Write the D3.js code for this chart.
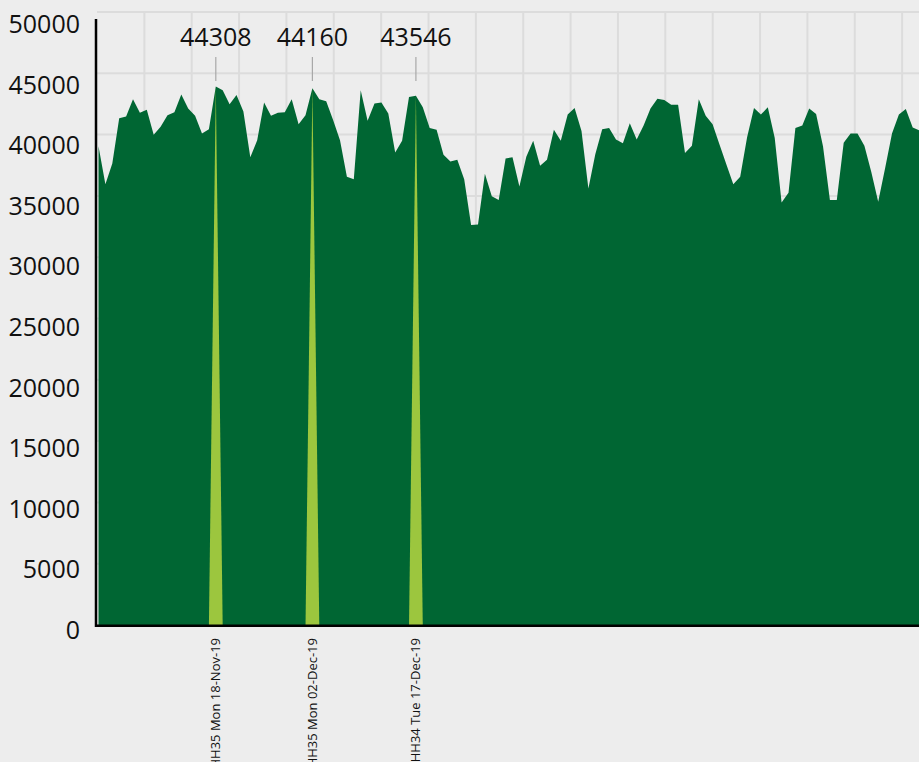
<!DOCTYPE html>
<html>
<head>
<meta charset="utf-8">
<script src="https://cdn.jsdelivr.net/npm/d3@7/dist/d3.min.js"></script>
<style>
	html, body { margin: 0; padding: 0; background: #ededed; overflow: hidden; }
	svg { display: block; font-family: "Open Sans", "Noto Sans", sans-serif; }
</style>
</head>
<body>
<svg id="chart"></svg>
<script>
/*
Daily peak demand, one value per day starting at firstDay.
The three highest peaks are called out with their half-hour period.
*/
var firstDay = "2019-11-01";

var dailyPeak = [
	39400, 36300, 38000, 41700, 41850, 43250, 42150, 42400, 40350, 41000,
	41950, 42200, 43650, 42500, 41900, 40450, 40800, 44308, 44000, 42850,
	43600, 42250, 38500, 39900, 43000, 41900, 42150, 42200, 43250, 41200,
	41950, 44160, 43250, 43100, 41550, 39900, 36900, 36700, 44000, 41500,
	42900, 43000, 42100, 38900, 39850, 43450, 43546, 42600, 40900, 40750,
	38700, 38150, 38300, 36700, 32950, 33000, 37150, 35300, 35000, 38400,
	38500, 36100, 38550, 39850, 37800, 38300, 40750, 39850, 42000, 42550,
	40650, 35950, 38750, 40800, 40900, 39950, 39650, 41300, 39950, 41100,
	42500, 43300, 43200, 42800, 42800, 38850, 39450, 43250, 41900, 41200,
	39550, 37900, 36300, 36900, 40150, 42550, 42000, 42600, 40100, 34800,
	35600, 40900, 41100, 42500, 42050, 39400, 35000, 35000, 39700, 40450,
	40450, 39450, 37300, 34850, 37600, 40450, 42000, 42450, 40950, 40700,
	40400
];

var peakDays = ["2019-11-18", "2019-12-02", "2019-12-17"];
var peakPeriods = ["HH35", "HH35", "HH34"];

var yTicks = [0, 5000, 10000, 15000, 20000, 25000, 30000, 35000, 40000, 45000, 50000];

function Chart(root) {
	var width = 919, height = 762,
		left = 97, right = width, top = 12, bottom = 626,
		dayWidth = 6.9, gridStepX = 47.36;

	var parse = d3.utcParse("%Y-%m-%d"),
		fmt = d3.utcFormat("%a %d-%b-%y"),
		start = parse(firstDay);

	var rows = dailyPeak.map(function (v, i) {
		return { day: d3.utcDay.offset(start, i), value: v };
	});

	var svg = d3.select(root).attr("width", width).attr("height", height);

	var x = d3.scaleUtc()
		.domain([rows[0].day, rows[rows.length - 1].day])
		.range([left + 1.5, left + 1.5 + (rows.length - 1) * dayWidth]);

	// the plotted values, the grid and the tick labels sit on slightly different scales
	var y = d3.scaleLinear().domain([0, 50000]).range([627, 17]);
	var yGrid = d3.scaleLinear().domain([0, 50000]).range([625, top]);
	var yLabel = d3.scaleLinear().domain([0, 50000]).range([630, 24]);

	svg.append("rect").attr("width", width).attr("height", height).attr("fill", "#ededed");

	svg.append("defs").append("clipPath").attr("id", "plot")
		.append("rect").attr("x", left).attr("y", 0)
		.attr("width", right - left).attr("height", bottom + 2);

	var grid = svg.append("g").attr("stroke", "#dcdcdc").attr("stroke-width", 2);
	grid.selectAll(".h").data(yTicks).enter().append("line")
		.attr("x1", left).attr("x2", right)
		.attr("y1", function (d) { return yGrid(d); })
		.attr("y2", function (d) { return yGrid(d); });
	grid.selectAll(".v").data(d3.range(left + gridStepX, right, gridStepX)).enter().append("line")
		.attr("x1", function (d) { return d; }).attr("x2", function (d) { return d; })
		.attr("y1", top).attr("y2", bottom);

	var area = d3.area()
		.x(function (d) { return x(d.day); })
		.y0(y(0))
		.y1(function (d) { return y(d.value); });

	var plot = svg.append("g").attr("clip-path", "url(#plot)");
	plot.append("path").datum(rows).attr("d", area).attr("fill", "#006633");

	var peaks = peakDays.map(function (s, i) {
		var day = parse(s);
		var row = rows.find(function (r) { return +r.day === +day; });
		return { day: day, value: row.value, period: peakPeriods[i] };
	});

	// light spike: zero the day before and after, peak on the day
	plot.selectAll(".spike").data(peaks).enter().append("path")
		.attr("fill", "#9cc63e")
		.attr("d", function (p) {
			return area([
				{ day: d3.utcDay.offset(p.day, -1), value: 0 },
				{ day: p.day, value: p.value },
				{ day: d3.utcDay.offset(p.day, 1), value: 0 }
			]);
		});

	// axes
	svg.append("line").attr("x1", 96).attr("x2", 96).attr("y1", 19).attr("y2", 627)
		.attr("stroke", "#000").attr("stroke-width", 2.5);
	svg.append("line").attr("x1", 95).attr("x2", right).attr("y1", 625.8).attr("y2", 625.8)
		.attr("stroke", "#000").attr("stroke-width", 2.6);

	svg.append("g").selectAll("text").data(yTicks).enter().append("text")
		.attr("x", 80).attr("y", function (d) { return yLabel(d); })
		.attr("dy", "0.36em").attr("text-anchor", "end")
		.attr("font-size", 25).attr("fill", "#111")
		.text(function (d) { return d; });

	// callouts
	var call = svg.append("g").selectAll("g").data(peaks).enter().append("g");
	call.append("line")
		.attr("x1", function (p) { return x(p.day); }).attr("x2", function (p) { return x(p.day); })
		.attr("y1", 57).attr("y2", 81)
		.attr("stroke", "#a8a8a8").attr("stroke-width", 1.2);
	call.append("text")
		.attr("x", function (p) { return x(p.day); }).attr("y", 45.5)
		.attr("text-anchor", "middle").attr("font-size", 25).attr("fill", "#111")
		.text(function (p) { return p.value; });
	call.append("text")
		.attr("transform", function (p) { return "translate(" + x(p.day) + ",638) rotate(-90)"; })
		.attr("text-anchor", "end").attr("dy", "0.35em")
		.attr("font-size", 13).attr("fill", "#111")
		.text(function (p) { return p.period + " " + fmt(p.day); });

	return svg;
}

Chart("#chart");
</script>
</body>
</html>
